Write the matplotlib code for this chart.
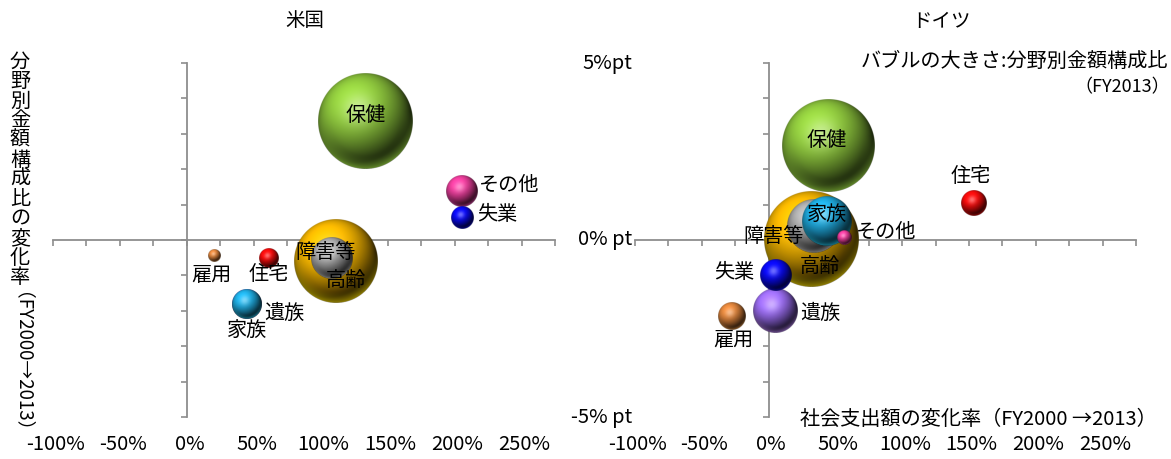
import numpy as np
import matplotlib
matplotlib.use("Agg")
import matplotlib.pyplot as plt
import matplotlib.colors as mcolors
from matplotlib.transforms import blended_transform_factory

plt.rcParams['font.family'] = ['Noto Sans CJK JP', 'DejaVu Sans']

# ---- data -------------------------------------------------------------
categories = ['保健', '高齢', '障害等', '遺族', '家族', 'その他', '失業', '住宅', '雇用']

# United States: spending growth FY2000->2013 (%), change in share (%pt), share FY2013 (%)
us_growth = [133.6, 111.5, 108.2, 45.0, 45.0, 205.5, 205.8, 61.5, 20.7]
us_share_change = [3.36, -0.59, -0.53, -1.80, -1.80, 1.39, 0.64, -0.50, -0.46]
us_share = [42.0, 32.8, 7.9, 4.1, 4.1, 4.7, 2.4, 1.8, 0.7]

# Germany
de_growth = [44.8, 32.0, 33.7, 4.9, 43.2, 56.4, 5.5, 154.0, -27.8]
de_share_change = [2.66, 0.02, 0.40, -2.00, 0.54, 0.06, -0.99, 1.05, -2.16]
de_share = [31.6, 33.0, 10.4, 7.25, 8.95, 0.76, 3.67, 2.42, 2.73]

x_ticks = [-100, -50, 0, 50, 100, 150, 200, 250]
x_tick_labels = ['-100%', '-50%', '0%', '50%', '100%', '150%', '200%', '250%']
y_ticks = [5, 0, -5]
y_tick_labels = ['5%pt', '0% pt', '-5% pt']

# ---- style ------------------------------------------------------------
colors = {
    '保健': '#8cc43c', '高齢': '#f3b400', '障害等': '#a8a8a8', '遺族': '#9a6cf0',
    '家族': '#1ea8dc', 'その他': '#e63c98', '失業': '#0808ee', '住宅': '#ee0a0a',
    '雇用': '#d8803a',
}
# label offsets in pixels from the bubble centre (dx, dy, horizontal alignment)
us_label_pos = {
    '保健': (0, 6, 'center'), '高齢': (10, -20, 'center'), '障害等': (-6, 6, 'center'),
    '遺族': (37, -10, 'center'), '家族': (0, -27, 'center'), 'その他': (17, 6, 'left'),
    '失業': (15, 3, 'left'), '住宅': (0, -17, 'center'), '雇用': (-3, -19, 'center'),
}
de_label_pos = {
    '保健': (-2, 5, 'center'), '高齢': (9, -27, 'center'), '障害等': (-40, -11, 'center'),
    '遺族': (45, -3, 'center'), '家族': (1, 6, 'center'), 'その他': (12, 6, 'left'),
    '失業': (-42, 3, 'center'), '住宅': (-4, 26, 'center'), '雇用': (2, -24, 'center'),
}

W, H, DPI = 1171, 459, 100
AXIS_GREY = '#8e8e8e'
MAX_RADIUS_PX = 47.5


def sphere_rgba(color, n):
    """Shaded sphere image (RGBA) with light coming from the upper left."""
    c = np.array(mcolors.to_rgb(color))
    t = np.linspace(-1, 1, n)
    u, v = np.meshgrid(t, t)          # v < 0 is the top of the image
    d2 = u ** 2 + v ** 2
    d = np.sqrt(d2)
    nz = np.sqrt(np.clip(1 - d2, 0, 1))
    L = np.array([-0.30, -0.50, 0.81])
    L /= np.linalg.norm(L)
    diff = np.clip(u * L[0] + v * L[1] + nz * L[2], 0, 1)
    shade = 0.20 + 0.97 * diff ** 1.2
    rgb = c[None, None, :] * shade[..., None]
    # soft highlight
    Hv = L + np.array([0, 0, 1.0])
    Hv /= np.linalg.norm(Hv)
    spec = np.clip(u * Hv[0] + v * Hv[1] + nz * Hv[2], 0, 1) ** 20 * 0.40
    rgb = rgb + spec[..., None] * (1 - rgb)
    # reflected light along the lower rim
    rim = np.clip((d - 0.72) / 0.28, 0, 1) ** 1.5 * np.clip(v + 0.2, 0, 1) * 0.45
    rgb = rgb + rim[..., None] * (np.minimum(c * 1.3, 1) - rgb) * (d <= 1)[..., None]
    rgb = np.clip(rgb, 0, 1)
    alpha = np.clip((1 - d) * n / 2 + 0.5, 0, 1)
    return np.dstack([rgb, alpha])


fig = plt.figure(figsize=(W / DPI, H / DPI), dpi=DPI)


def px_box(x0, y0, x1, y1):
    return [x0 / W, 1 - y1 / H, (x1 - x0) / W, (y1 - y0) / H]


def fig_xy(x, y):
    return x / W, 1 - y / H


def setup_axes(rect):
    ax = fig.add_axes(rect)
    ax.set_xlim(-100, 275)
    ax.set_ylim(-5, 5)
    ax.patch.set_alpha(0)
    for side in ('top', 'right'):
        ax.spines[side].set_visible(False)
    ax.spines['left'].set_position(('data', 0))
    ax.spines['bottom'].set_position(('data', 0))
    for side in ('left', 'bottom'):
        ax.spines[side].set_color(AXIS_GREY)
        ax.spines[side].set_linewidth(1.3)
    ax.set_xticks(np.arange(-100, 276, 25))
    ax.set_yticks(np.arange(-5, 6, 1))
    ax.set_xticklabels([])
    ax.set_yticklabels([])
    ax.tick_params(direction='out', length=4, width=1.2, color=AXIS_GREY)
    trans = blended_transform_factory(ax.transData, fig.transFigure)
    for xv, lab in zip(x_ticks, x_tick_labels):
        ax.text(xv + 2, 1 - 444 / H, lab, transform=trans, ha='center', va='center',
                fontsize=14.5, clip_on=False)
    return ax


def draw_bubbles(ax, growth, change, share, label_pos):
    fig.canvas.draw()
    bbox = ax.get_window_extent()
    ppx = bbox.width / 375.0
    ppy = bbox.height / 10.0
    smax = max(share)
    order = sorted(range(len(share)), key=lambda i: -share[i])
    for z, i in enumerate(order):
        r = MAX_RADIUS_PX * np.sqrt(share[i] / smax)
        n = max(int(r * 6), 24)
        img = sphere_rgba(colors[categories[i]], n)
        dx, dy = r / ppx, r / ppy
        x, y = growth[i], change[i]
        ax.imshow(img, extent=[x - dx, x + dx, y - dy, y + dy], aspect='auto',
                  interpolation='antialiased', zorder=3 + z * 0.01)
    ax.set_xlim(-100, 275)
    ax.set_ylim(-5, 5)
    for i, name in enumerate(categories):
        ox, oy, ha = label_pos[name]
        ax.annotate(name, (growth[i], change[i]), xytext=(ox * 72 / DPI, oy * 72 / DPI),
                    textcoords='offset points', ha=ha, va='center', fontsize=14.5,
                    zorder=10)


ax_us = setup_axes(px_box(53, 63, 555, 417))
ax_de = setup_axes(px_box(635, 63, 1136, 417))
draw_bubbles(ax_us, us_growth, us_share_change, us_share, us_label_pos)
draw_bubbles(ax_de, de_growth, de_share_change, de_share, de_label_pos)

# y tick labels of the right panel
trans_de = blended_transform_factory(fig.transFigure, ax_de.transData)
for yv, lab in zip(y_ticks, y_tick_labels):
    ax_de.text(632 / W, yv, lab, transform=trans_de, ha='right', va='center',
               fontsize=14.5, clip_on=False)

# panel titles
fig.text(*fig_xy(305, 21), '米国', ha='center', va='center', fontsize=14)
fig.text(*fig_xy(942, 21), 'ドイツ', ha='center', va='center', fontsize=14)

# vertical y-axis title
for k, ch in enumerate('分野別金額構成比の変化率'):
    fig.text(*fig_xy(20, 62 + 19.6 * k), ch, ha='center', va='center', fontsize=14.5)
fig.text(*fig_xy(2, 372), '（FY2000→2013）', ha='center', va='bottom',
         rotation=-90, rotation_mode='anchor', fontsize=13.5)

# notes
fig.text(*fig_xy(1168, 61), 'バブルの大きさ:分野別金額構成比', ha='right', va='center',
         fontsize=14.5)
fig.text(*fig_xy(1170, 87), '（FY2013）', ha='right', va='center', fontsize=13)
fig.text(*fig_xy(1157, 419), '社会支出額の変化率（FY2000 →2013）', ha='right',
         va='center', fontsize=14.5)

fig.savefig('out.png', dpi=DPI)
